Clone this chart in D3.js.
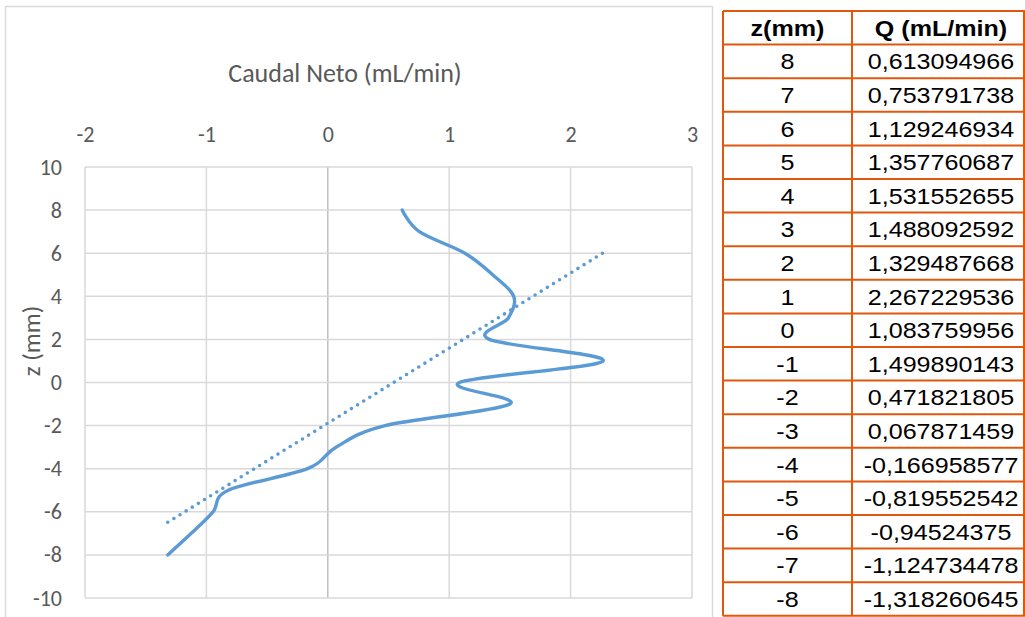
<!DOCTYPE html>
<html>
<head>
<meta charset="utf-8">
<script src="https://cdn.jsdelivr.net/npm/d3@7"></script>
<style>
  html, body { margin: 0; padding: 0; background: #fff; }
  svg { display: block; }
</style>
</head>
<body>
<svg id="root" width="1025" height="617"></svg>
<script>
// Measurements: depth z (mm) and net flow Q (mL/min)
const zValues = [8, 7, 6, 5, 4, 3, 2, 1, 0, -1, -2, -3, -4, -5, -6, -7, -8];
const qValues = [0.613094966, 0.753791738, 1.129246934, 1.357760687, 1.531552655,
                 1.488092592, 1.329487668, 2.267229536, 1.083759956, 1.499890143,
                 0.471821805, 0.067871459, -0.166958577, -0.819552542, -0.94524375,
                 -1.124734478, -1.318260645];
const xTicks = [-2, -1, 0, 1, 2, 3];
const yTicks = [10, 8, 6, 4, 2, 0, -2, -4, -6, -8, -10];
const tableHeaders = ["z(mm)", "Q (mL/min)"];

const svg = d3.select("#root");
const chartFont = "Carlito, 'Liberation Sans Narrow', 'Open Sans', sans-serif";
const tableFont = "'Liberation Sans', Arial, sans-serif";
const textGrey = "#595959";
const gridGrey = "#d9d9d9";
const lineBlue = "#5b9bd5";
const plainNumber = d => String(d);

// Chart frame
svg.append("rect")
  .attr("x", 5.5).attr("y", 6.5).attr("width", 707).attr("height", 620)
  .attr("fill", "#fff").attr("stroke", gridGrey).attr("stroke-width", 1.5);

const plot = { left: 85, right: 692, top: 167, bottom: 598 };
const x = d3.scaleLinear().domain([-2, 3]).range([plot.left, plot.right]);
const y = d3.scaleLinear().domain([-10, 10]).range([plot.bottom, plot.top]);

// Gridlines
const g = svg.append("g");
g.selectAll(".vgrid").data(xTicks).join("line")
  .attr("x1", d => x(d)).attr("x2", d => x(d))
  .attr("y1", plot.top).attr("y2", plot.bottom)
  .attr("stroke", d => d === 0 ? "#bfbfbf" : gridGrey).attr("stroke-width", 1.5);
g.selectAll(".hgrid").data(yTicks).join("line")
  .attr("x1", plot.left).attr("x2", plot.right)
  .attr("y1", d => y(d)).attr("y2", d => y(d))
  .attr("stroke", gridGrey).attr("stroke-width", 1.5);

// Top value axis
const xAxis = svg.append("g")
  .attr("transform", `translate(0,${plot.top})`)
  .call(d3.axisTop(x).tickValues(xTicks).tickSize(0).tickPadding(25).tickFormat(plainNumber));
xAxis.select(".domain").remove();
xAxis.selectAll("text").attr("fill", textGrey).style("font-family", chartFont).style("font-size", "22px");

// Left axis labels
const yAxis = svg.append("g")
  .attr("transform", `translate(${plot.left},0)`)
  .call(d3.axisLeft(y).tickValues(yTicks).tickSize(0).tickPadding(23).tickFormat(plainNumber));
yAxis.select(".domain").remove();
yAxis.selectAll("text").attr("fill", textGrey).style("font-family", chartFont).style("font-size", "22px");

// Titles
svg.append("text")
  .attr("x", 345).attr("y", 82)
  .attr("text-anchor", "middle")
  .attr("fill", textGrey)
  .style("font-family", chartFont).style("font-size", "26px")
  .text("Caudal Neto (mL/min)");
svg.append("text")
  .attr("transform", "translate(40,341) rotate(-90)")
  .attr("text-anchor", "middle")
  .attr("fill", textGrey)
  .style("font-family", chartFont).style("font-size", "25px")
  .text("z (mm)");

// Measured profile (smoothed)
const pts = zValues.map((z, i) => ({ z, q: qValues[i] }));
svg.append("path")
  .datum(pts)
  .attr("fill", "none")
  .attr("stroke", lineBlue).attr("stroke-width", 3.4)
  .attr("stroke-linecap", "round").attr("stroke-linejoin", "round")
  .attr("d", d3.line().x(d => x(d.q)).y(d => y(d.z)).curve(d3.curveCatmullRom.alpha(0)));

// Linear trend of z on Q
const mq = d3.mean(pts, d => d.q), mz = d3.mean(pts, d => d.z);
const slope = d3.sum(pts, d => (d.q - mq) * (d.z - mz)) / d3.sum(pts, d => (d.q - mq) ** 2);
const intercept = mz - slope * mq;
const [qMin, qMax] = d3.extent(qValues);
svg.append("line")
  .attr("x1", x(qMin)).attr("y1", y(slope * qMin + intercept))
  .attr("x2", x(qMax)).attr("y2", y(slope * qMax + intercept))
  .attr("stroke", lineBlue).attr("stroke-width", 3.6)
  .attr("stroke-linecap", "round").attr("stroke-dasharray", "0 7.2");

// Data table
const tbl = { left: 723, mid: 852, right: 1024, top: 11, rowH: 33.6 };
const rows = [tableHeaders].concat(zValues.map((z, i) => [String(z), String(qValues[i]).replace(".", ",")]));
const tg = svg.append("g");
const orange = "#e2570e";
function cellText(cx, cy, txt, bold) {
  tg.append("text")
    .attr("transform", `translate(${cx},${cy}) scale(1.14,1)`)
    .attr("text-anchor", "middle").attr("fill", "#000")
    .style("font-family", tableFont).style("font-size", "22px")
    .style("font-weight", bold ? "bold" : "normal")
    .text(txt);
}
rows.forEach((r, i) => {
  const cy = tbl.top + i * tbl.rowH + tbl.rowH / 2 + 8;
  cellText((tbl.left + tbl.mid) / 2, cy, r[0], i === 0);
  cellText((tbl.mid + tbl.right) / 2 + 3, cy, r[1], i === 0);
});
const nRows = rows.length;
d3.range(nRows + 1).forEach(i => {
  tg.append("line")
    .attr("x1", tbl.left).attr("x2", tbl.right + 4)
    .attr("y1", tbl.top + i * tbl.rowH).attr("y2", tbl.top + i * tbl.rowH)
    .attr("stroke", orange).attr("stroke-width", 2);
});
[tbl.left, tbl.mid, tbl.right].forEach(xx => {
  tg.append("line")
    .attr("x1", xx).attr("x2", xx)
    .attr("y1", tbl.top).attr("y2", tbl.top + nRows * tbl.rowH)
    .attr("stroke", orange).attr("stroke-width", 2);
});
</script>
</body>
</html>
